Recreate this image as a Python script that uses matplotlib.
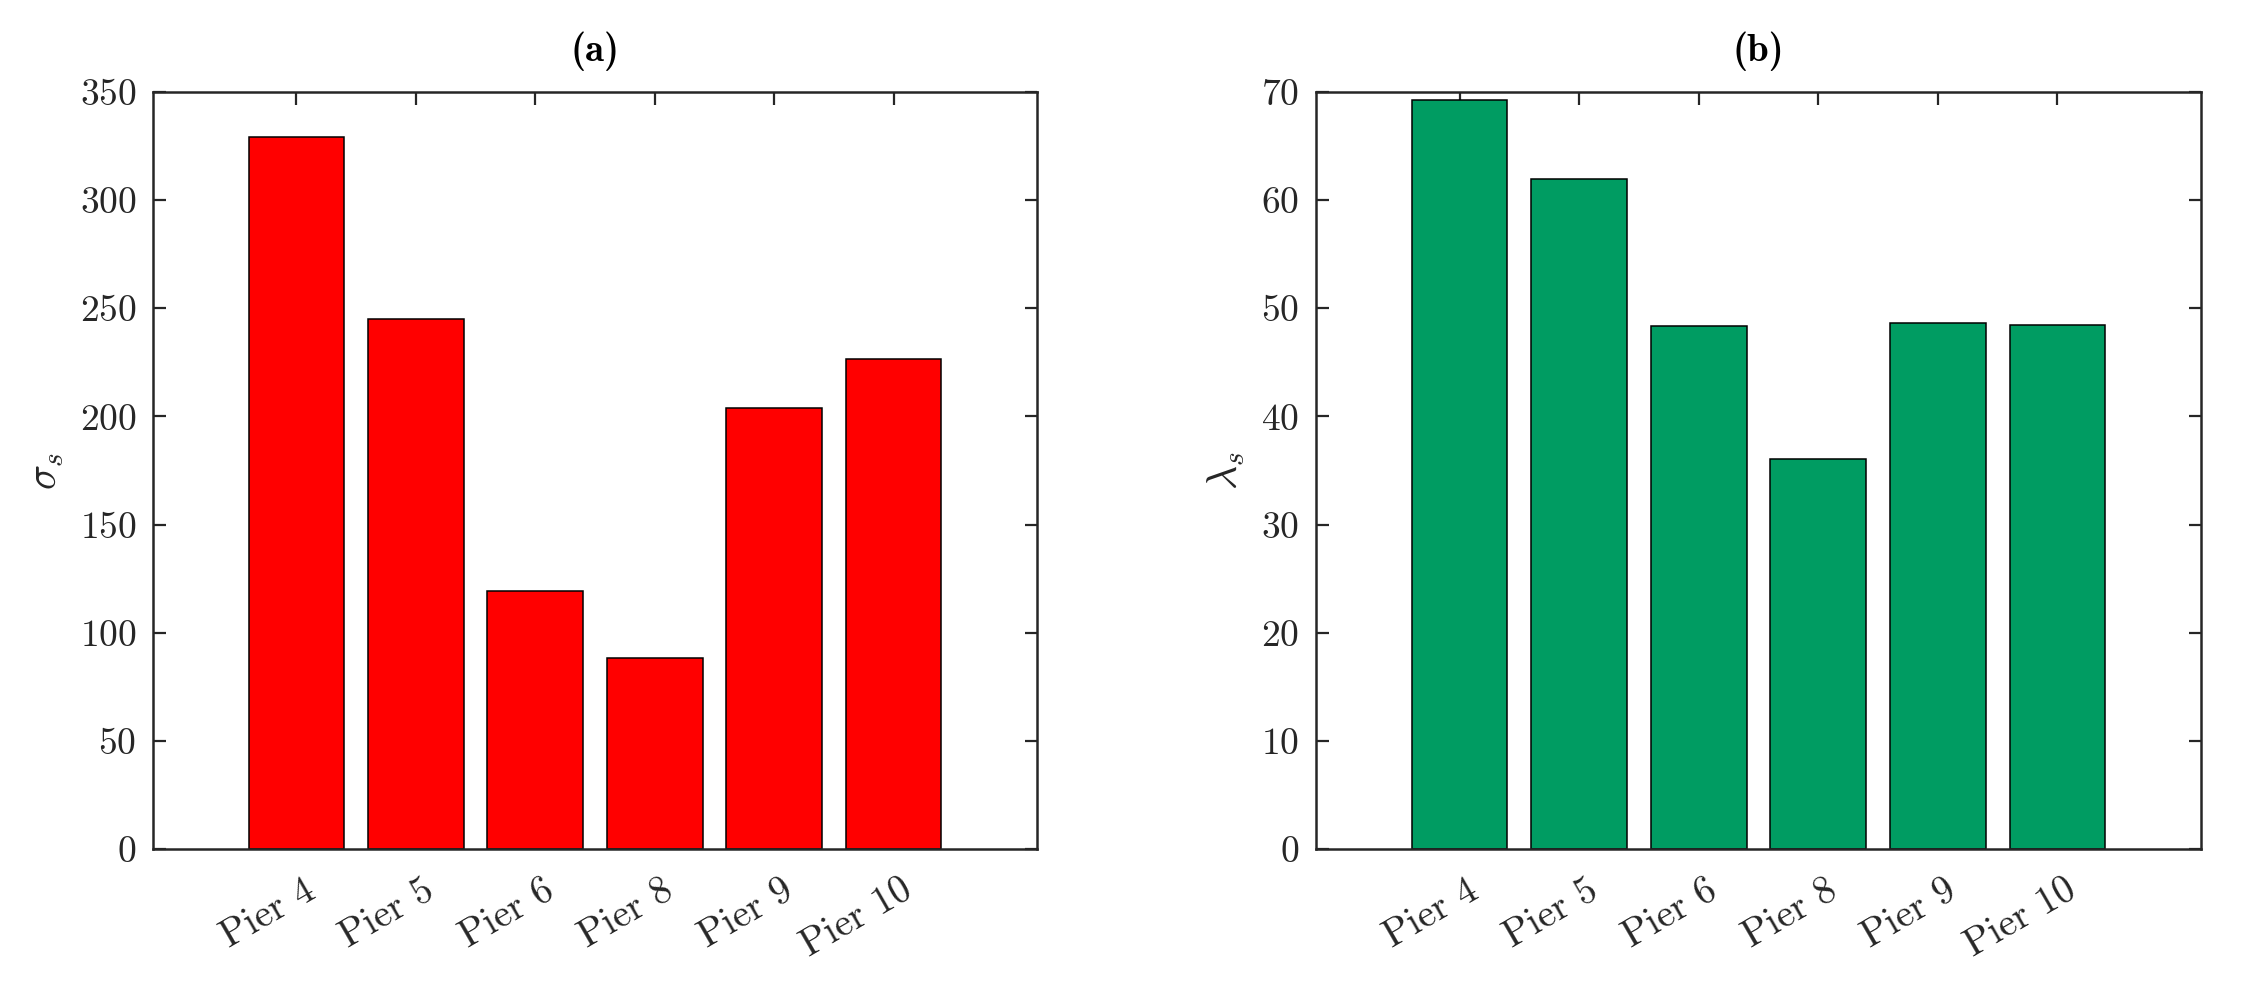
import numpy as np
import matplotlib
matplotlib.use('Agg')
import matplotlib.pyplot as plt
import matplotlib.transforms as mtransforms

# Datos
piers = ['Pier 4', 'Pier 5', 'Pier 6', 'Pier 8', 'Pier 9', 'Pier 10']
sigma_s = [329.3, 245.0, 119.4, 88.5, 204.0, 226.7]
lambda_s = [69.3, 62.0, 48.4, 36.1, 48.6, 48.45]

plt.rcParams['font.family'] = 'serif'
plt.rcParams['font.serif'] = ['cmr10']
plt.rcParams['mathtext.fontset'] = 'cm'
plt.rcParams['axes.formatter.use_mathtext'] = True
plt.rcParams['axes.unicode_minus'] = False

eixo_cor = '#262626'

fig = plt.figure(figsize=(22.45, 9.85), dpi=100)
ax1 = fig.add_axes([153 / 2245, 1 - 849 / 985, (1037 - 153) / 2245, (849 - 92) / 985])
ax2 = fig.add_axes([1316 / 2245, 1 - 849 / 985, (2201 - 1316) / 2245, (849 - 92) / 985])

desloc = mtransforms.ScaledTranslation(0.16, 0, fig.dpi_scale_trans)

def desenha(ax, valores, cor, ylim, passo, ylabel, titulo):
    x = np.arange(1, len(piers) + 1)
    ax.bar(x, valores, width=0.8, color=cor, edgecolor='black', linewidth=1.1, zorder=2)
    ax.set_xlim(-0.2, len(piers) + 1.2)
    ax.set_ylim(*ylim)
    ax.set_yticks(np.arange(ylim[0], ylim[1] + 1, passo))
    ax.set_xticks(x)
    ax.set_xticklabels(piers, rotation=30, ha='right', rotation_mode='anchor', va='center')
    ax.tick_params(direction='in', top=True, right=True, length=9, width=1.6,
                   labelsize=27, colors=eixo_cor, pad=12)
    ax.tick_params(axis='x', pad=28, labelsize=28)
    for lbl in ax.get_xticklabels():
        lbl.set_transform(lbl.get_transform() + desloc)
    for s in ax.spines.values():
        s.set_linewidth(1.8)
        s.set_color(eixo_cor)
    ax.set_ylabel(ylabel, fontsize=30, color=eixo_cor, labelpad=10)
    ax.set_title(titulo, fontsize=28, pad=22, family='cmb10')

desenha(ax1, sigma_s, '#FF0000', (0, 350), 50, r'$\sigma_s$', '(a)')
desenha(ax2, lambda_s, '#009C62', (0, 70), 10, r'$\lambda_s$', '(b)')

fig.savefig('out.png', dpi=100)
